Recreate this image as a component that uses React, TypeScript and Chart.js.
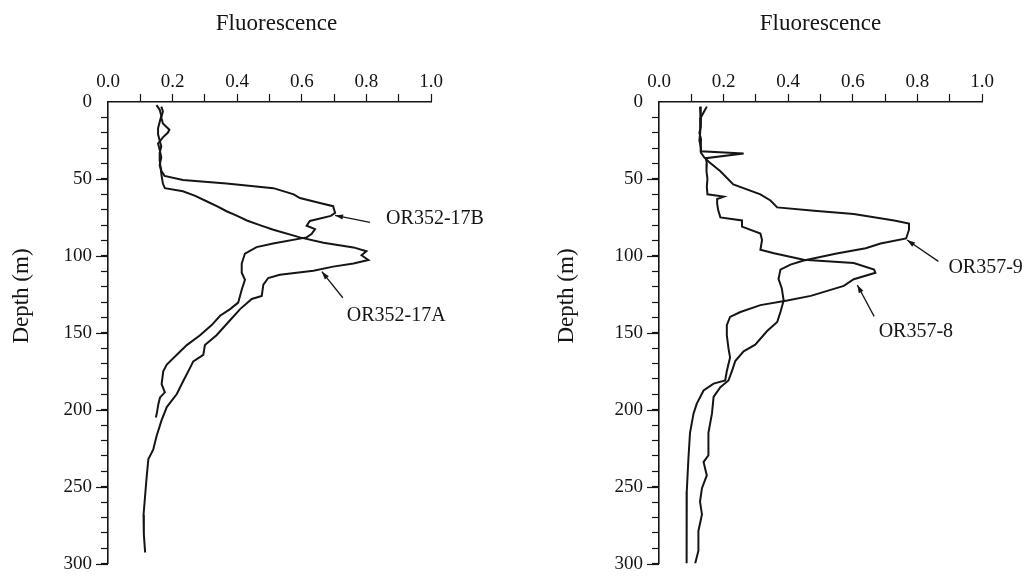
import React, { useEffect, useRef } from 'react';
import { Chart, registerables } from 'chart.js';

Chart.register(...registerables);

// ---------- data (fluorescence vs depth in metres) ----------
const xTickValues = [0, 0.2, 0.4, 0.6, 0.8, 1.0];
const depthTickValues = [0, 50, 100, 150, 200, 250, 300];

const or352_17A_depth = [2, 5, 9, 13, 17, 21, 25, 29, 33, 38, 43, 48, 53, 56, 58, 61, 64.5, 68, 71, 74, 77, 80, 83, 88, 91.5, 94.5, 97, 99.6, 102.7, 104.9, 107, 109.6, 112.3, 114.4, 118.7, 126, 128, 134.6, 143, 151.6, 158, 164.3, 168.6, 172.8, 181.3, 189.8, 198.3, 206.8, 217.4, 226, 232, 243, 255.6, 268.4, 281, 292.8];
const or352_17A_fluor = [0.15, 0.16, 0.165, 0.16, 0.155, 0.155, 0.16, 0.165, 0.16, 0.16, 0.163, 0.166, 0.17, 0.176, 0.232, 0.27, 0.305, 0.34, 0.367, 0.40, 0.43, 0.47, 0.512, 0.594, 0.667, 0.76, 0.80, 0.785, 0.806, 0.76, 0.697, 0.636, 0.532, 0.496, 0.481, 0.476, 0.445, 0.409, 0.373, 0.336, 0.30, 0.295, 0.264, 0.254, 0.233, 0.213, 0.182, 0.166, 0.15, 0.14, 0.125, 0.12, 0.115, 0.11, 0.111, 0.115];

const or352_17B_depth = [3, 6, 10, 14, 18, 20, 23, 27, 31, 36, 41, 45, 48, 50.7, 52.9, 56, 60, 62.4, 65.6, 67.7, 72, 74, 77.3, 80.4, 82.6, 85.8, 88, 92, 94.3, 98.5, 105, 111, 115.5, 122, 130.4, 134.6, 138.9, 145, 151.6, 158, 164.3, 170.7, 175, 183.4, 188.7, 192, 196.2, 202.5, 205];
const or352_17B_fluor = [0.165, 0.17, 0.165, 0.17, 0.19, 0.185, 0.17, 0.155, 0.16, 0.165, 0.16, 0.166, 0.175, 0.232, 0.367, 0.512, 0.575, 0.594, 0.656, 0.697, 0.703, 0.69, 0.625, 0.615, 0.641, 0.63, 0.615, 0.511, 0.46, 0.424, 0.414, 0.414, 0.424, 0.414, 0.403, 0.378, 0.347, 0.321, 0.285, 0.244, 0.213, 0.182, 0.171, 0.166, 0.176, 0.161, 0.156, 0.151, 0.148];

const or357_9_depth = [3, 6, 10, 15, 20, 25, 30, 33, 36, 39, 45, 53.6, 60, 64, 68.5, 70.6, 72.8, 77, 79, 83, 88.7, 92, 95, 98.5, 103, 105.7, 108.9, 115, 121, 129, 136.5, 143, 149, 157.7, 162, 168.4, 174.8, 181, 185.3, 191.7, 202.4, 215, 229.6, 234, 242.7, 251, 259.7, 268, 278.8, 291.6, 300];
const or357_9_fluor = [0.148, 0.14, 0.13, 0.128, 0.127, 0.125, 0.13, 0.13, 0.14, 0.155, 0.19, 0.23, 0.314, 0.345, 0.366, 0.48, 0.603, 0.728, 0.774, 0.774, 0.765, 0.686, 0.64, 0.55, 0.448, 0.407, 0.376, 0.37, 0.38, 0.386, 0.376, 0.366, 0.334, 0.298, 0.262, 0.236, 0.226, 0.215, 0.19, 0.169, 0.164, 0.153, 0.153, 0.138, 0.148, 0.133, 0.127, 0.133, 0.122, 0.122, 0.112];

const or357_8_depth = [3, 8, 12, 16, 20, 24, 28, 32, 33.5, 36.5, 40, 45, 50, 55, 60, 61.5, 63, 66, 70, 75, 77, 81, 85.5, 89.7, 96, 98.3, 102.5, 104.6, 108.9, 111, 115.2, 119.5, 126, 129, 132, 136.5, 139.7, 145, 151.6, 160, 166, 174.8, 181, 183, 187.5, 196, 202.4, 215, 232, 253, 274, 300];
const or357_8_fluor = [0.127, 0.13, 0.128, 0.13, 0.125, 0.13, 0.128, 0.13, 0.262, 0.145, 0.148, 0.147, 0.15, 0.148, 0.15, 0.2, 0.18, 0.18, 0.183, 0.19, 0.257, 0.257, 0.314, 0.319, 0.314, 0.356, 0.448, 0.603, 0.666, 0.67, 0.603, 0.572, 0.47, 0.397, 0.314, 0.252, 0.22, 0.21, 0.21, 0.215, 0.22, 0.21, 0.205, 0.169, 0.138, 0.117, 0.107, 0.096, 0.091, 0.086, 0.085, 0.086];

// labels with arrows: [fluorescence, depth] of arrow tip, arrow tail, text start
const leftNotes = [
  { label: 'OR352-17B', tip: [0.703, 73.7], tail: [0.811, 78.3], text: [0.861, 75.6] },
  { label: 'OR352-17A', tip: [0.662, 110.2], tail: [0.727, 127.2], text: [0.739, 138.9] },
];
const rightNotes = [
  { label: 'OR357-9', tip: [0.768, 89.7], tail: [0.865, 103.6], text: [0.896, 107.8] },
  { label: 'OR357-8', tip: [0.614, 118.9], tail: [0.666, 139.3], text: [0.68, 149.3] },
];

// ---------- styling ----------
const FONT = '"Liberation Serif", "Times New Roman", Times, serif';
const INK = '#151515';
const H = 584;

type Note = { label: string; tip: number[]; tail: number[]; text: number[] };
type Series = { name: string; depth: number[]; fluor: number[] };

function zip(fluor: number[], depth: number[]) {
  const n = Math.min(fluor.length, depth.length);
  const out: { x: number; y: number }[] = [];
  for (let i = 0; i < n; i++) out.push({ x: fluor[i], y: depth[i] });
  return out;
}

type PanelProps = {
  left: number;
  width: number;
  areaLeft: number;
  areaRight: number;
  areaTop: number;
  areaBottom: number;
  series: Series[];
  notes: Note[];
  titleDx: number;
  depthTitleDx: number;
};

function Panel(p: PanelProps) {
  const ref = useRef<HTMLCanvasElement | null>(null);

  useEffect(() => {
    if (!ref.current) return;

    const decor = {
      id: 'decor',
      afterDraw(chart: any) {
        const ctx = chart.ctx as CanvasRenderingContext2D;
        const xs = chart.scales.x;
        const ys = chart.scales.y;
        const area = chart.chartArea;
        ctx.save();
        // longer marks at labelled depths
        ctx.strokeStyle = INK;
        ctx.lineWidth = 1.2;
        for (const v of depthTickValues) {
          if (v === 0) continue;
          const py = Math.round(ys.getPixelForValue(v)) + 0.5;
          ctx.beginPath();
          ctx.moveTo(area.left - 12, py);
          ctx.lineTo(area.left, py);
          ctx.stroke();
        }
        // axis titles
        ctx.fillStyle = INK;
        ctx.font = `23px ${FONT}`;
        ctx.textAlign = 'center';
        ctx.textBaseline = 'middle';
        ctx.fillText('Fluorescence', (area.left + area.right) / 2 + p.titleDx, 24);
        ctx.save();
        ctx.translate(area.left + p.depthTitleDx, 296);
        ctx.rotate(-Math.PI / 2);
        ctx.fillText('Depth (m)', 0, 0);
        ctx.restore();
        // labels with arrows
        ctx.font = `20px ${FONT}`;
        ctx.textAlign = 'left';
        ctx.textBaseline = 'middle';
        ctx.lineWidth = 1.3;
        for (const n of p.notes) {
          const tx = xs.getPixelForValue(n.tip[0]);
          const ty = ys.getPixelForValue(n.tip[1]);
          const sx = xs.getPixelForValue(n.tail[0]);
          const sy = ys.getPixelForValue(n.tail[1]);
          ctx.beginPath();
          ctx.moveTo(sx, sy);
          ctx.lineTo(tx, ty);
          ctx.stroke();
          const ang = Math.atan2(ty - sy, tx - sx);
          const L = 8;
          const W = 2.6;
          ctx.beginPath();
          ctx.moveTo(tx, ty);
          ctx.lineTo(tx - L * Math.cos(ang) + W * Math.sin(ang), ty - L * Math.sin(ang) - W * Math.cos(ang));
          ctx.lineTo(tx - L * Math.cos(ang) - W * Math.sin(ang), ty - L * Math.sin(ang) + W * Math.cos(ang));
          ctx.closePath();
          ctx.fill();
          ctx.fillText(n.label, xs.getPixelForValue(n.text[0]), ys.getPixelForValue(n.text[1]));
        }
        ctx.restore();
      },
    };

    const hideZero = (c: any) => (c.tick && c.tick.value === 0 ? 'rgba(0,0,0,0)' : INK);

    const chart = new Chart(ref.current, {
      type: 'scatter',
      data: {
        datasets: p.series.map((s) => ({
          label: s.name,
          data: zip(s.fluor, s.depth),
          showLine: true,
          borderColor: INK,
          backgroundColor: INK,
          borderWidth: 2,
          pointRadius: 0,
          pointHoverRadius: 0,
          tension: 0,
          fill: false,
        })),
      },
      options: {
        responsive: false,
        animation: false,
        devicePixelRatio: 1,
        events: [],
        layout: {
          padding: { left: 0, top: 0, right: p.width - p.areaRight, bottom: H - p.areaBottom },
        },
        plugins: { legend: { display: false }, tooltip: { enabled: false }, title: { display: false } },
        scales: {
          x: {
            type: 'linear',
            position: 'top',
            min: 0,
            max: 1,
            afterFit: (s: any) => {
              s.height = p.areaTop;
            },
            ticks: {
              stepSize: 0.1,
              autoSkip: false,
              maxRotation: 0,
              minRotation: 0,
              padding: 1,
              color: INK,
              font: { family: FONT, size: 19 },
              callback: (v: any) => {
                const n = Math.round(Number(v) * 10) / 10;
                return xTickValues.some((t) => Math.abs(t - n) < 1e-6) ? n.toFixed(1) : '';
              },
            },
            grid: {
              display: true,
              drawOnChartArea: false,
              drawTicks: true,
              tickLength: 8,
              tickWidth: 1.2,
              tickColor: hideZero,
            },
            border: { display: true, color: INK, width: 1.6 },
          },
          y: {
            type: 'linear',
            position: 'left',
            reverse: true,
            min: 0,
            max: 300,
            afterFit: (s: any) => {
              s.width = p.areaLeft;
            },
            ticks: {
              stepSize: 10,
              autoSkip: false,
              padding: 9,
              color: INK,
              font: { family: FONT, size: 19 },
              callback: (v: any) => (depthTickValues.includes(Number(v)) ? String(v) : ''),
            },
            grid: {
              display: true,
              drawOnChartArea: false,
              drawTicks: true,
              tickLength: 7,
              tickWidth: 1.2,
              tickColor: hideZero,
            },
            border: { display: true, color: INK, width: 1.6 },
          },
        },
      },
      plugins: [decor],
    } as any);

    return () => chart.destroy();
  }, []);

  return (
    <canvas
      ref={ref}
      width={p.width}
      height={H}
      style={{ position: 'absolute', left: p.left, top: 0, width: p.width, height: H }}
    />
  );
}

export default function App() {
  const leftSeries: Series[] = [
    { name: 'OR352-17A', depth: or352_17A_depth, fluor: or352_17A_fluor },
    { name: 'OR352-17B', depth: or352_17B_depth, fluor: or352_17B_fluor },
  ];
  const rightSeries: Series[] = [
    { name: 'OR357-9', depth: or357_9_depth, fluor: or357_9_fluor },
    { name: 'OR357-8', depth: or357_8_depth, fluor: or357_8_fluor },
  ];
  return (
    <div
      style={{
        position: 'absolute',
        left: 0,
        top: 0,
        width: 1025,
        height: H,
        background: '#ffffff',
        overflow: 'hidden',
      }}
    >
      <Panel
        left={0}
        width={512}
        areaLeft={108}
        areaRight={431}
        areaTop={102}
        areaBottom={573}
        series={leftSeries}
        notes={leftNotes}
        titleDx={7}
        depthTitleDx={-86}
      />
      <Panel
        left={512}
        width={513}
        areaLeft={147}
        areaRight={470}
        areaTop={102}
        areaBottom={573}
        series={rightSeries}
        notes={rightNotes}
        titleDx={0}
        depthTitleDx={-92}
      />
    </div>
  );
}
